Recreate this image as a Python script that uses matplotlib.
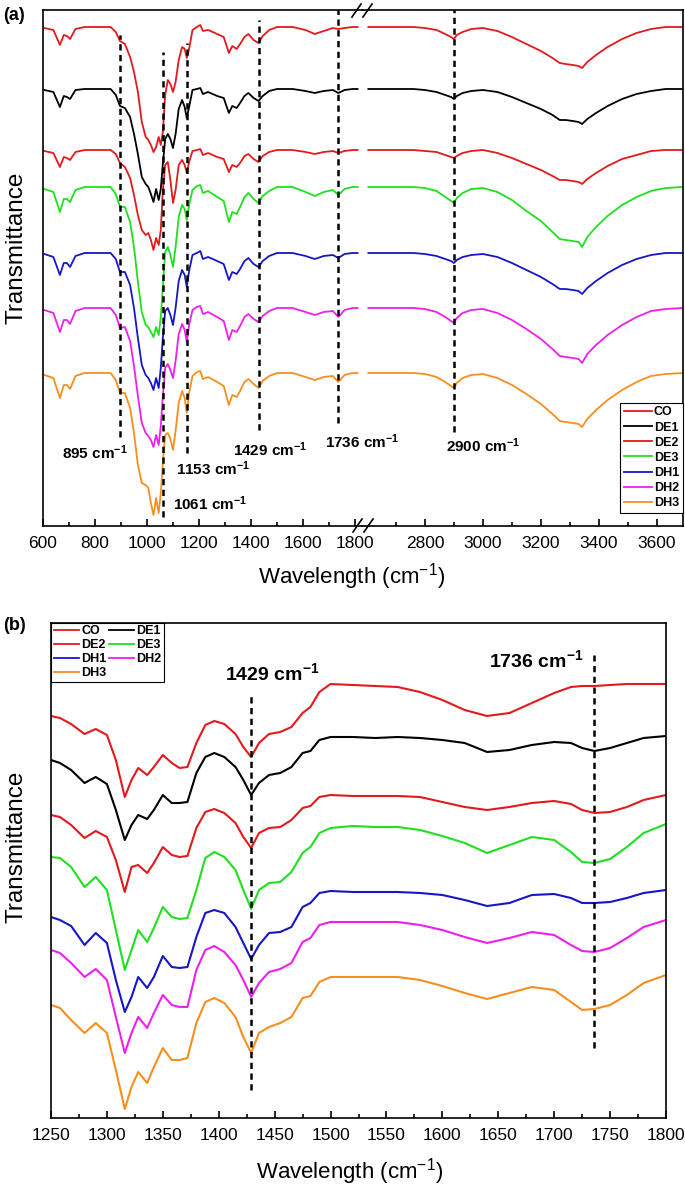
import numpy as np
import matplotlib.pyplot as plt
from matplotlib.lines import Line2D

plt.rcParams['font.family'] = ['Liberation Sans', 'DejaVu Sans']
plt.rcParams['mathtext.fontset'] = 'custom'
plt.rcParams['mathtext.rm'] = 'Liberation Sans'
plt.rcParams['mathtext.bf'] = 'Liberation Sans:bold'
plt.rcParams['mathtext.default'] = 'regular'

names = ['CO', 'DE1', 'DE2', 'DE3', 'DH1', 'DH2', 'DH3']
colors = ['#e3191c', '#000000', '#e3191c', '#1fe01f', '#1616c8', '#ee1fee', '#f78e1e']

# ---- panel (a): 600-1820 part (drop below each spectrum's baseline)
wn_a1 = [605, 640, 665, 680, 692, 704, 725, 760, 860, 880, 896, 915, 935, 950, 965,
         980, 995, 1005, 1015, 1025, 1035, 1045, 1053, 1061, 1070, 1080, 1090, 1100,
         1110, 1122, 1135, 1145, 1153, 1162, 1175, 1192, 1205, 1215, 1235, 1270, 1295,
         1315, 1328, 1345, 1358, 1375, 1390, 1410, 1429, 1445, 1470, 1500, 1560, 1610,
         1645, 1680, 1715, 1736, 1760, 1790, 1810]
co_a1 = [1, 3, 18, 8, 9, 12, 2, 0, 0, 5, 14, 17, 30, 45, 65, 95, 110, 113, 118, 125,
         120, 110, 118, 105, 68, 53, 57, 65, 55, 33, 20, 22, 31, 22, 3, 0, -2, 4, 3, 7,
         10, 26, 19, 22, 17, 10, 7, 13, 16, 9, 3, 0, 0, 3, 7, 4, 1, 2, 1, 0, 0]
de1_a1 = [1, 3, 18, 7, 8, 10, 1, 0, 0, 6, 17, 19, 28, 45, 65, 88, 95, 98, 105, 113,
          100, 111, 100, 75, 50, 45, 50, 59, 45, 20, 11, 18, 29, 18, 1, 0, -1, 5, 3, 7,
          9, 24, 17, 19, 14, 7, 4, 9, 12, 7, 2, 0, 0, 2, 4, 2, 1, 4, 1, 0, 0]
de2_a1 = [1, 3, 17, 7, 8, 10, 2, 0, 0, 4, 13, 17, 28, 45, 65, 80, 85, 83, 90, 100,
          88, 95, 80, 40, 15, 12, 30, 53, 40, 15, 10, 15, 23, 12, 1, 0, -1, 5, 3, 7,
          9, 22, 15, 17, 13, 6, 4, 9, 12, 6, 2, 0, 0, 2, 4, 2, 1, 3, 1, 0, 0]
de3_a1 = [2, 5, 25, 12, 12, 15, 3, 0, 0, 7, 20, 20, 35, 60, 95, 125, 138, 140, 145, 150,
          140, 148, 130, 100, 65, 60, 68, 80, 60, 30, 18, 22, 33, 18, 3, -1, -2, 6, 4, 10,
          14, 35, 25, 27, 20, 10, 6, 12, 16, 9, 4, 0, 0, 5, 9, 5, 3, 8, 2, 0, 0]
dh1_a1 = [1, 4, 22, 10, 10, 14, 3, 0, 0, 6, 19, 19, 32, 55, 85, 112, 122, 125, 130, 137,
          125, 135, 115, 85, 58, 55, 62, 72, 55, 28, 17, 22, 34, 18, 2, 0, -2, 6, 4, 8,
          11, 27, 19, 21, 16, 8, 5, 11, 14, 8, 3, 0, 0, 3, 6, 3, 2, 5, 1, 0, 0]
dh2_a1 = [2, 5, 24, 12, 12, 16, 3, 0, 0, 7, 20, 19, 33, 58, 88, 115, 125, 128, 132, 139,
          127, 137, 118, 88, 60, 56, 62, 70, 53, 26, 16, 22, 34, 17, 2, -1, -2, 6, 4, 9,
          13, 32, 22, 24, 18, 9, 6, 11, 14, 8, 3, 0, 0, 4, 7, 4, 3, 9, 2, 0, 0]
dh3_a1 = [2, 5, 25, 12, 12, 16, 3, 0, 0, 7, 20, 20, 35, 60, 92, 110, 112, 115, 130, 142,
          125, 140, 120, 90, 62, 60, 66, 77, 58, 30, 18, 25, 40, 20, 3, -1, -2, 6, 4, 9,
          13, 32, 22, 24, 18, 9, 6, 11, 15, 8, 3, 0, 0, 4, 7, 4, 3, 9, 2, 0, 0]

# ---- panel (a): 2600-3690 part
wn_a2 = [2605, 2700, 2760, 2800, 2840, 2870, 2890, 2900, 2910, 2930, 2960, 3000, 3050,
         3100, 3150, 3200, 3240, 3265, 3285, 3310, 3330, 3342, 3360, 3390, 3430, 3480,
         3530, 3580, 3630, 3690]
co_a2 = [0, 0, 0, 1, 3, 7, 10, 12, 8, 5, 2, 1, 4, 10, 17, 24, 31, 36, 37, 38, 39, 41,
         35, 28, 20, 12, 6, 2, 0, 0]
de1_a2 = [0, 0, 0, 1, 3, 6, 8, 10, 7, 4, 2, 1, 3, 8, 14, 20, 26, 31, 31, 32, 33, 35,
          30, 24, 17, 10, 5, 2, 0, 0]
de2_a2 = [0, 0, 0, 1, 2, 5, 7, 8, 6, 3, 1, 0, 3, 8, 14, 20, 26, 30, 30, 31, 32, 34,
          29, 23, 16, 9, 5, 1, 0, 0]
de3_a2 = [0, 0, 0, 1, 4, 10, 14, 16, 11, 6, 2, 1, 5, 13, 24, 34, 45, 52, 53, 54, 55, 60,
          50, 40, 29, 18, 10, 4, 1, 0]
dh1_a2 = [0, 0, 0, 1, 3, 6, 8, 10, 7, 4, 2, 1, 4, 10, 17, 24, 31, 36, 36, 37, 38, 41,
          35, 28, 20, 12, 6, 2, 0, 0]
dh2_a2 = [0, 0, 0, 1, 4, 9, 13, 15, 10, 5, 2, 1, 5, 12, 21, 31, 41, 48, 49, 50, 51, 55,
          46, 37, 27, 17, 9, 3, 1, 0]
dh3_a2 = [0, 0, 0, 1, 4, 9, 13, 15, 10, 5, 2, 1, 5, 12, 21, 31, 41, 48, 49, 50, 51, 54,
          46, 37, 27, 17, 9, 3, 1, 0]
offsets_a = [499, 437, 376, 339, 273, 218, 153]

# ---- panel (b): 1250-1800 zoom (stacked transmittance)
wn_b = [1250, 1258, 1268, 1280, 1290, 1300, 1308, 1316, 1322, 1328, 1336, 1342, 1350,
        1358, 1365, 1372, 1380, 1388, 1396, 1405, 1415, 1422, 1429, 1436, 1445, 1455,
        1465, 1475, 1482, 1490, 1500, 1520, 1540, 1560, 1580, 1600, 1620, 1640, 1660,
        1680, 1700, 1715, 1725, 1736, 1750, 1765, 1780, 1800]
co_b = [402, 400, 394, 384, 389, 383, 358, 321, 338, 350, 343, 351, 363, 355, 350, 351,
        375, 393, 397, 394, 384, 371, 361, 375, 384, 386, 391, 405, 411, 426, 434, 433,
        432, 431, 426, 418, 408, 402, 405, 415, 425, 431, 432, 432, 433, 434, 434, 434]
de1_b = [358, 355, 348, 335, 341, 334, 308, 278, 293, 303, 299, 308, 323, 315, 315, 316,
         345, 361, 365, 361, 351, 338, 323, 335, 343, 345, 351, 365, 367, 378, 381, 381,
         380, 381, 380, 378, 375, 366, 368, 373, 376, 375, 370, 367, 370, 375, 380, 382]
de2_b = [303, 301, 293, 280, 287, 281, 258, 226, 251, 253, 245, 255, 271, 263, 261, 262,
         290, 306, 309, 305, 295, 281, 270, 285, 290, 291, 298, 310, 312, 321, 323, 322,
         322, 322, 321, 316, 311, 308, 311, 315, 317, 314, 308, 305, 306, 311, 318, 323]
de3_b = [261, 260, 251, 231, 241, 228, 188, 148, 168, 188, 176, 190, 211, 201, 199, 200,
         228, 260, 266, 261, 248, 228, 209, 228, 235, 236, 246, 265, 271, 285, 290, 292,
         291, 291, 288, 282, 275, 265, 273, 281, 278, 266, 256, 255, 259, 271, 285, 294]
dh1_b = [201, 198, 192, 173, 185, 175, 138, 106, 121, 141, 130, 141, 162, 151, 150, 151,
         181, 205, 208, 205, 191, 175, 159, 173, 185, 186, 191, 211, 215, 225, 227, 226,
         226, 226, 225, 223, 218, 212, 215, 223, 224, 220, 215, 215, 216, 220, 225, 228]
dh2_b = [168, 165, 155, 141, 149, 138, 101, 65, 85, 101, 90, 105, 123, 113, 111, 111,
         148, 168, 172, 166, 153, 138, 121, 135, 146, 149, 155, 176, 180, 193, 196, 196,
         196, 196, 193, 188, 181, 175, 180, 186, 183, 173, 167, 166, 170, 180, 191, 198]
dh3_b = [113, 110, 98, 85, 95, 85, 48, 9, 31, 46, 35, 51, 70, 58, 58, 60, 95, 116, 120,
         115, 101, 81, 65, 85, 91, 95, 101, 120, 122, 136, 141, 141, 141, 141, 138, 132,
         125, 119, 125, 131, 128, 116, 108, 109, 113, 123, 135, 143]

left_a = [co_a1, de1_a1, de2_a1, de3_a1, dh1_a1, dh2_a1, dh3_a1]
right_a = [co_a2, de1_a2, de2_a2, de3_a2, dh1_a2, dh2_a2, dh3_a2]
spec_b = [co_b, de1_b, de2_b, de3_b, dh1_b, dh2_b, dh3_b]

W, H = 685, 1187
fig = plt.figure(figsize=(W / 100, H / 100), dpi=100)


def box(x0, y0, x1, y1):
    return [x0 / W, 1 - y1 / H, (x1 - x0) / W, (y1 - y0) / H]


ax1 = fig.add_axes(box(43, 10, 362, 526))
ax2 = fig.add_axes(box(362, 10, 683, 526))
axb = fig.add_axes(box(51, 623, 666, 1118))
# let the 1736 label run across the break
ax1.patch.set_visible(False)
ax2.patch.set_visible(False)

handles = []
for i in range(7):
    y1 = offsets_a[i] - np.array(left_a[i])
    y2 = offsets_a[i] - np.array(right_a[i])
    h, = ax1.plot(wn_a1, y1, color=colors[i], lw=1.3)
    ax2.plot(wn_a2, y2, color=colors[i], lw=1.3)
    handles.append(h)
    axb.plot(wn_b, spec_b[i], color=colors[i], lw=1.5)

ax1.set_xlim(600, 1827)
ax2.set_xlim(2583, 3690)
for ax in (ax1, ax2):
    ax.set_ylim(0, 516)
axb.set_xlim(1250, 1800)
axb.set_ylim(0, 495)

ax1.set_xticks(np.arange(600, 1801, 200))
ax1.set_xticks(np.arange(700, 1801, 200), minor=True)
ax2.set_xticks(np.arange(2800, 3601, 200))
ax2.set_xticks(np.arange(2700, 3690, 200), minor=True)
axb.set_xticks(np.arange(1250, 1801, 50))
axb.set_xticks(np.arange(1275, 1800, 50), minor=True)

for ax in (ax1, ax2, axb):
    ax.set_yticks([])
    ax.tick_params(axis='x', which='major', direction='in', length=5, width=1.2,
                   labelsize=12.5, pad=7)
    ax.tick_params(axis='x', which='minor', direction='in', length=3, width=1.2)
    for s in ax.spines.values():
        s.set_linewidth(1.2)
ax1.spines['right'].set_visible(False)
ax2.spines['left'].set_visible(False)

# dashed marker lines
dash = dict(color='k', lw=1.8, ls=(0, (2.5, 1.8)), zorder=5)
ax1.plot([895, 895], [89, 491], **dash)
ax1.plot([1061, 1061], [9, 474], **dash)
ax1.plot([1153, 1153], [73, 483], **dash)
ax1.plot([1429, 1429], [96, 506], **dash)
ax1.plot([1736, 1736], [103, 516], **dash)
ax2.plot([2900, 2900], [94, 516], **dash)
axb.plot([1429, 1429], [28, 423], **dash)
axb.plot([1736, 1736], [70, 463], **dash)

lab = dict(ha='center', va='center', fontsize=11, fontweight='bold', zorder=6)
ax1.text(800, 73, r'895 cm$^{\mathbf{-1}}$', **lab)
ax1.text(1254, 57, r'1153 cm$^{\mathbf{-1}}$', **lab)
ax1.text(1242, 22, r'1061 cm$^{\mathbf{-1}}$', **lab)
ax1.text(1473, 76, r'1429 cm$^{\mathbf{-1}}$', **lab)
ax1.text(1827, 84, r'1736 cm$^{\mathbf{-1}}$', **lab)
ax2.text(3000, 80, r'2900 cm$^{\mathbf{-1}}$', **lab)

labb = dict(ha='center', va='center', fontsize=14, fontweight='bold')
axb.text(1448, 445, r'1429 cm$^{\mathbf{-1}}$', **labb)
axb.text(1684, 458, r'1736 cm$^{\mathbf{-1}}$', **labb)

# axis break marks
for x0, y0, x1, y1 in [(353, 532, 362, 519), (364, 532, 373, 519),
                       (352, 17, 361, 4), (363, 17, 372, 4)]:
    fig.add_artist(Line2D([x0 / W, x1 / W], [1 - y0 / H, 1 - y1 / H], color='k', lw=1.2))

leg = ax2.legend(handles, names, loc='lower right', bbox_to_anchor=(1.0, 13 / 516),
                 borderaxespad=0, fancybox=False, edgecolor='k', framealpha=1,
                 prop={'weight': 'bold', 'size': 9}, handlelength=2.2, handletextpad=0.2,
                 labelspacing=0.25, borderpad=0.3)
leg.get_frame().set_linewidth(0.8)

order = [0, 2, 4, 6, 1, 3, 5]
legb = axb.legend([handles[i] for i in order], [names[i] for i in order], ncol=2,
                  loc='upper left', bbox_to_anchor=(0, 1), borderaxespad=0, fancybox=False,
                  edgecolor='k', framealpha=1, prop={'weight': 'bold', 'size': 9},
                  handlelength=2.0, handletextpad=0.2, columnspacing=0.2,
                  labelspacing=0.15, borderpad=0.2)
legb.get_frame().set_linewidth(0.8)

fig.text(352 / W, 1 - 577 / H, r'Wavelength (cm$^{-1}$)', ha='center', va='center', fontsize=16)
fig.text(350 / W, 1 - 1172 / H, r'Wavelength (cm$^{-1}$)', ha='center', va='center', fontsize=16)
fig.text(17 / W, 1 - 248 / H, 'Transmittance', rotation=90, ha='center', va='center', fontsize=17.5)
fig.text(17 / W, 1 - 847 / H, 'Transmittance', rotation=90, ha='center', va='center', fontsize=17.5)
fig.text(14 / W, 1 - 16 / H, '(a)', ha='center', va='center', fontsize=13, fontweight='bold')
fig.text(14 / W, 1 - 626 / H, '(b)', ha='center', va='center', fontsize=13, fontweight='bold')

fig.savefig('out.png', dpi=100)
